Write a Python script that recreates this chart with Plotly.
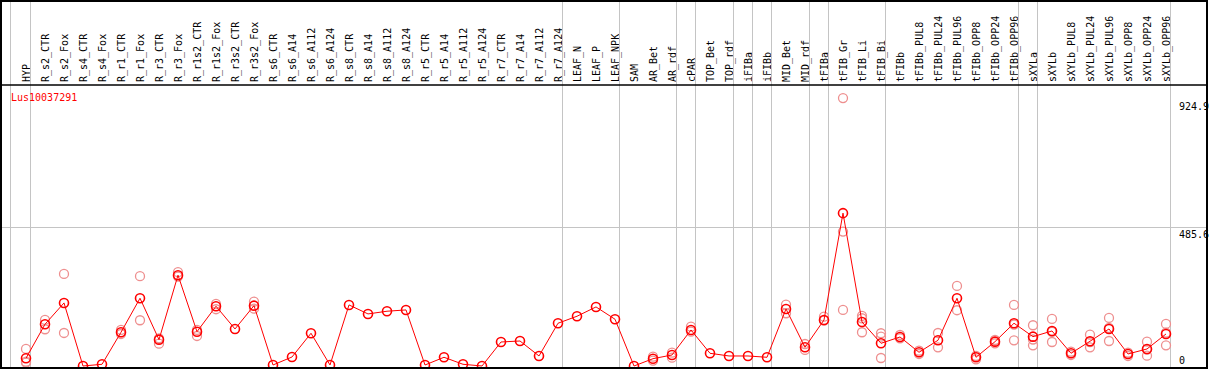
import plotly.graph_objects as go

gene = "Lus10037291"

categories = [
    "HYP", "R_s2_CTR", "R_s2_Fox", "R_s4_CTR", "R_s4_Fox", "R_r1_CTR", "R_r1_Fox",
    "R_r3_CTR", "R_r3_Fox", "R_r1s2_CTR", "R_r1s2_Fox", "R_r3s2_CTR", "R_r3s2_Fox",
    "R_s6_CTR", "R_s6_A14", "R_s6_A112", "R_s6_A124", "R_s8_CTR", "R_s8_A14",
    "R_s8_A112", "R_s8_A124", "R_r5_CTR", "R_r5_A14", "R_r5_A112", "R_r5_A124",
    "R_r7_CTR", "R_r7_A14", "R_r7_A112", "R_r7_A124", "LEAF_N", "LEAF_P", "LEAF_NPK",
    "SAM", "AR_Bet", "AR_rdf", "cPAR", "TOP_Bet", "TOP_rdf", "iFIBa", "iFIBb",
    "MID_Bet", "MID_rdf", "tFIBa", "tFIB_Gr", "tFIB_Li", "tFIB_Bi", "tFIBb",
    "tFIBb_PUL8", "tFIBb_PUL24", "tFIBb_PUL96", "tFIBb_OPP8", "tFIBb_OPP24",
    "tFIBb_OPP96", "sXYLa", "sXYLb", "sXYLb_PUL8", "sXYLb_PUL24", "sXYLb_PUL96",
    "sXYLb_OPP8", "sXYLb_OPP24", "sXYLb_OPP96",
]

mean_expr = [
    41.5, 157.0, 229.4, 15.3, 21.1, 129.8, 245.3, 104.7, 323.5, 131.8, 218.2, 141.0, 220.2,
    18.7, 45.9, 126.4, 18.7, 222.6, 192.0, 201.2, 205.6, 18.7, 44.9, 21.1, 15.3,
    96.8, 100.2, 49.3, 160.4, 184.2, 215.8, 174.0,
    15.3, 40.1, 52.7, 137.6, 58.4, 49.3, 49.3, 44.9, 209.0, 78.8, 171.6, 534.2,
    164.8, 92.4, 113.8, 61.8, 102.6, 245.3, 44.9, 97.9, 160.4,
    114.9, 134.2, 58.4, 99.2, 141.0, 56.1, 73.1, 124.0,
]

rep_1 = [
    73.1, 171.6, 327.9, None, None, 137.6, 320.1, 109.4, 333.7, 137.6, 226.0, None, 233.8,
    None, None, None, None, None, None, None, None, None, None, None, None,
    None, None, None, None, None, None, None,
    None, 46.9, 60.5, 148.8, None, None, None, None, 223.6, 90.0, 182.8, 924.9,
    185.2, 126.4, 120.6, 67.3, 127.4, 287.1, 49.3, 103.6, 222.6,
    153.6, 175.0, 63.9, 121.6, 178.4, 60.5, 97.9, 158.0,
]
rep_2 = [
    29.9, 140.0, 127.4, None, None, 124.0, 170.6, 91.1, 318.7, 117.2, 208.0, None, 210.0,
    None, None, None, None, None, None, None, None, None, None, None, None,
    None, None, None, None, None, None, None,
    None, 33.3, 43.5, 131.8, None, None, None, None, 194.4, 69.7, 169.2, 471.6,
    177.4, 114.9, 109.4, 56.1, 78.8, 204.6, 38.1, 92.4, 156.0,
    105.3, 130.8, 52.7, 96.8, 144.4, 49.3, 71.0, 128.4,
]
rep_3 = [
    26.5, None, None, None, None, None, None, None, None, None, None, None, None,
    None, None, None, None, None, None, None, None, None, None, None, None,
    None, None, None, None, None, None, None,
    None, None, None, None, None, None, None, None, None, None, None, 205.6,
    129.8, 42.5, None, None, None, None, None, None, 102.6,
    85.6, 96.8, None, 78.8, 100.2, None, 50.3, 85.6,
]

y_labels = [924.9, 485.6, 0]
group_last = [0, 28, 31, 34, 35, 37, 38, 39, 41, 42, 45, 52, 53, 60]

RED = "#ff0000"
PINK = "#ee8f8f"
GRID = "#c4c4c4"
FONT = "DejaVu Sans Mono"

x_idx = list(range(len(categories)))
separators = [-0.83] + [g + 0.23 for g in group_last]

fig = go.Figure()

for reps in (rep_1, rep_2, rep_3):
    fig.add_trace(go.Scatter(
        x=x_idx, y=reps, mode="markers", xaxis="x", yaxis="y",
        marker=dict(symbol="circle-open", size=9, color=PINK, line=dict(width=1.3, color=PINK)),
        hoverinfo="skip", showlegend=False,
    ))

fig.add_trace(go.Scatter(
    x=x_idx, y=mean_expr, mode="lines+markers", xaxis="x", yaxis="y",
    line=dict(color=RED, width=1),
    marker=dict(symbol="circle-open", size=9, color=RED, line=dict(width=1.6, color=RED)),
    showlegend=False,
))

# header subplot (for grid lines through label area)
fig.add_trace(go.Scatter(x=[0], y=[0], mode="markers", xaxis="x2", yaxis="y2",
                         marker=dict(opacity=0), hoverinfo="skip", showlegend=False))

xr = [-1.3158, 62.158]
data_top = 0.7711

fig.update_layout(
    width=1209, height=370,
    margin=dict(l=1, r=2, t=1, b=2, pad=0),
    paper_bgcolor="white", plot_bgcolor="white",
    font=dict(family=FONT, size=10, color="black"),
    xaxis=dict(
        domain=[0, 1], range=xr, anchor="y", side="top",
        tickmode="array", tickvals=x_idx, ticktext=categories,
        tickangle=-90, ticks="", ticklabelstandoff=2, ticklabelshift=1,
        showgrid=False, zeroline=False, showline=False,
        tickfont=dict(family=FONT, size=10, color="black"),
        minor=dict(tickmode="array", tickvals=separators, showgrid=True,
                   gridcolor=GRID, gridwidth=1, ticks=""),
    ),
    yaxis=dict(
        domain=[0, data_top], range=[8.5, 969.1], anchor="x",
        tickmode="array", tickvals=[485.6], showticklabels=False,
        showgrid=True, gridcolor=GRID, gridwidth=1, zeroline=False, showline=False,
    ),
    xaxis2=dict(
        domain=[0, 1], matches="x", anchor="y2", showticklabels=False, ticks="",
        showgrid=False, zeroline=False, showline=False,
        minor=dict(tickmode="array", tickvals=separators, showgrid=True,
                   gridcolor=GRID, gridwidth=1, ticks=""),
    ),
    yaxis2=dict(
        domain=[data_top, 1], range=[0, 1], anchor="x2", visible=False,
    ),
    shapes=[
        dict(type="rect", xref="paper", yref="paper", x0=0, x1=1, y0=0, y1=1,
             line=dict(color="black", width=2), layer="above"),
        dict(type="line", xref="paper", yref="paper", x0=0, x1=1, y0=data_top, y1=data_top,
             line=dict(color="black", width=1.5), layer="above"),
    ],
)

annotations = [
    dict(text=gene, xref="paper", yref="paper", x=0.0065, y=0.7384,
         xanchor="left", yanchor="middle", showarrow=False,
         font=dict(family=FONT, size=10, color=RED)),
]
lab_x = 0.9755
annotations.append(dict(text=f"{y_labels[0]}", xref="paper", yref="y", x=lab_x, y=y_labels[0],
                        xanchor="left", yanchor="top", yshift=-1, showarrow=False,
                        font=dict(family=FONT, size=10, color="black")))
annotations.append(dict(text=f"{y_labels[1]}", xref="paper", yref="y", x=lab_x, y=y_labels[1],
                        xanchor="left", yanchor="top", yshift=0, showarrow=False,
                        font=dict(family=FONT, size=10, color="black")))
annotations.append(dict(text=f"{y_labels[2]}", xref="paper", yref="paper", x=lab_x, y=0,
                        xanchor="left", yanchor="bottom", yshift=0, showarrow=False,
                        font=dict(family=FONT, size=10, color="black")))
fig.update_layout(annotations=annotations)

fig.write_html(
    "out.html",
    config={"displayModeBar": False},
    post_script="document.body.style.margin='0px';document.body.style.overflow='hidden';",
)
